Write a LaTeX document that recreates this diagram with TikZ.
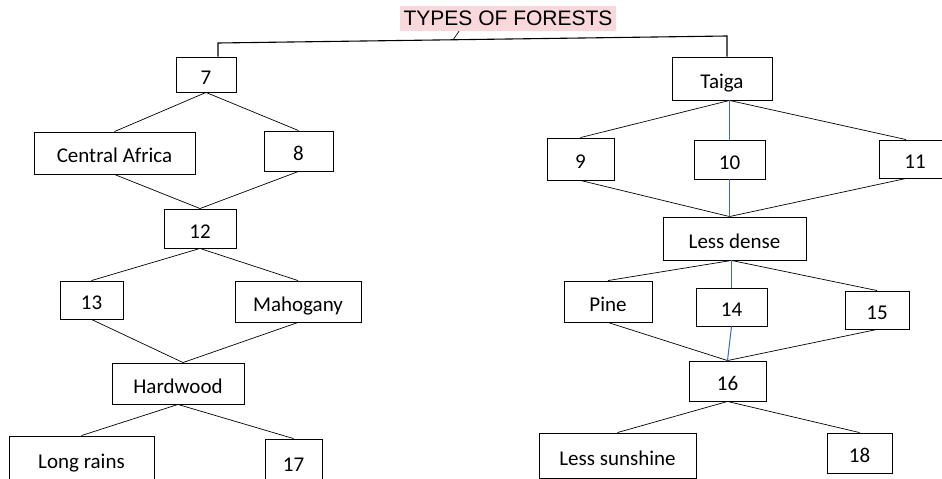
\documentclass[tikz,border=0pt]{standalone}
\usepackage{fontspec}
\setmainfont{Carlito}
\newfontfamily\titlefont{Liberation Sans}
\definecolor{titlepink}{RGB}{248,216,219}
\definecolor{linkblue}{RGB}{60,105,200}
\begin{document}
\begin{tikzpicture}[x=1pt,y=-1pt,
  box/.style={draw,line width=0.9pt,inner sep=0pt,text height=20pt,text depth=1pt,font=\fontsize{21}{25}\selectfont},
  link/.style={line width=0.7pt},
  bluelink/.style={line width=1pt,draw=linkblue}]
\useasboundingbox (0,0) rectangle (942,479);
\clip (0,0) rectangle (942,479);
\node[fill=titlepink,inner sep=0pt,minimum width=216pt,minimum height=25pt,font=\titlefont\fontsize{21}{25}\selectfont] (title) at (508,18.5) {TYPES OF FORESTS};
% left tree
\node[box,minimum width=60pt,minimum height=35pt] (b7) at (206,74.5) {7};
\node[box,minimum width=161pt,minimum height=42pt] (ca) at (114.5,153) {Central Africa};
\node[box,minimum width=69pt,minimum height=40pt] (b8) at (298.5,151) {8};
\node[box,minimum width=72pt,minimum height=39pt] (b12) at (200,228.5) {12};
\node[box,minimum width=63pt,minimum height=38pt] (b13) at (91.5,300) {13};
\node[box,minimum width=126pt,minimum height=41pt] (mah) at (298,301.5) {Mahogany};
\node[box,minimum width=132pt,minimum height=41pt] (hw) at (178,383.5) {Hardwood};
\node[box,minimum width=145pt,minimum height=45pt] (lr) at (81.5,458.5) {Long rains};
\node[box,minimum width=57pt,minimum height=45pt] (b17) at (293.5,461.5) {17};
% right tree
\node[box,minimum width=100pt,minimum height=43pt] (taiga) at (722,78.5) {Taiga};
\node[box,minimum width=67pt,minimum height=42pt] (b9) at (580.5,159) {9};
\node[box,minimum width=71pt,minimum height=39pt] (b10) at (729.5,159.5) {10};
\node[box,minimum width=72pt,minimum height=38pt] (b11) at (915,159) {11};
\node[box,minimum width=143pt,minimum height=43pt] (ld) at (734.5,238.5) {Less dense};
\node[box,minimum width=88pt,minimum height=41pt] (pine) at (608,301.5) {Pine};
\node[box,minimum width=71pt,minimum height=38pt] (b14) at (731.5,307) {14};
\node[box,minimum width=64pt,minimum height=38pt] (b15) at (877,310) {15};
\node[box,minimum width=77pt,minimum height=40pt] (b16) at (727.5,381) {16};
\node[box,minimum width=157pt,minimum height=45pt] (ls) at (617.5,455.5) {Less sunshine};
\node[box,minimum width=65pt,minimum height=40pt] (b18) at (859.5,453) {18};
% top bracket
\coordinate (brl) at (218,43);
\coordinate (brr) at (727,36);
\coordinate (tk) at (453,40);
\draw[line width=1.1pt] (brl |- b7.north) -- (brl) -- (brr) -- (brr |- taiga.north);
\draw[link] ([xshift=-49pt]title.south) -- (tk);
% left connectors
\draw[link] (b7.south) -- (ca.north);
\draw[link] (b7.south) -- (b8.north);
\draw[link] (ca.south) -- (b12.north);
\draw[link] (b8.south) -- (b12.north);
\draw[link] (b12.south) -- (b13.north);
\draw[link] (b12.south) -- (mah.north);
\draw[link] (b13.south) -- ([xshift=5pt]hw.north);
\draw[link] (mah.south) -- ([xshift=5pt]hw.north);
\draw[link] (hw.south) -- (lr.north);
\draw[link] (hw.south) -- (b17.north);
% right connectors
\coordinate (tg) at (taiga.south -| b10.north);
\coordinate (lt) at (ld.north -| b10.south);
\coordinate (lb) at (ld.south -| b14.north);
\draw[link] (tg) -- (b9.north);
\draw[link] (tg) -- ([xshift=-9pt]b11.north);
\draw[bluelink] (tg) -- (b10.north);
\draw[link] (b9.south) -- (lt);
\draw[link] ([xshift=-9pt]b11.south) -- (lt);
\draw[bluelink] (b10.south) -- (lt);
\draw[link] (lb) -- (pine.north);
\draw[link] (lb) -- (b15.north);
\draw[bluelink] (lb) -- (b14.north);
\draw[link] (pine.south) -- (b16.north);
\draw[link] (b15.south) -- (b16.north);
\draw[bluelink] (b14.south) -- (b16.north);
\draw[link] (b16.south) -- (ls.north);
\draw[link] (b16.south) -- (b18.north);
\end{tikzpicture}
\end{document}
